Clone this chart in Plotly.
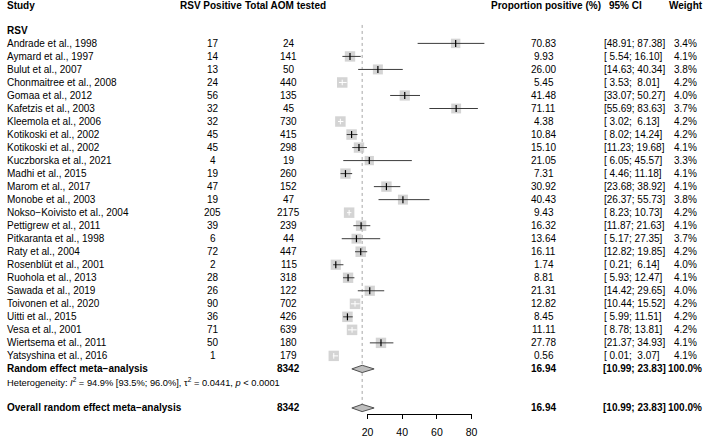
import plotly.graph_objects as go

# ---------------- data ----------------
studies = ["Andrade et al., 1998", "Aymard et al., 1997", "Bulut et al., 2007",
           "Chonmaitree et al., 2008", "Gomaa et al., 2012", "Kafetzis et al., 2003",
           "Kleemola et al., 2006", "Kotikoski et al., 2002", "Kotikoski et al., 2002",
           "Kuczborska et al., 2021", "Madhi et al., 2015", "Marom et al., 2017",
           "Monobe et al., 2003", "Nokso\u2212Koivisto et al., 2004", "Pettigrew et al., 2011",
           "Pitkaranta et al., 1998", "Raty et al., 2004", "Rosenblüt et al., 2001",
           "Ruohola et al., 2013", "Sawada et al., 2019", "Toivonen et al., 2020",
           "Uitti et al., 2015", "Vesa et al., 2001", "Wiertsema et al., 2011",
           "Yatsyshina et al., 2016"]
events = [17, 14, 13, 24, 56, 32, 32, 45, 45, 4, 19, 47, 19, 205, 39, 6, 72, 2, 28, 26, 90, 36, 71, 50, 1]
totals = [24, 141, 50, 440, 135, 45, 730, 415, 298, 19, 260, 152, 47, 2175, 239, 44, 447, 115, 318,
          122, 702, 426, 639, 180, 179]
prop = [70.83, 9.93, 26.00, 5.45, 41.48, 71.11, 4.38, 10.84, 15.10, 21.05, 7.31, 30.92, 40.43, 9.43,
        16.32, 13.64, 16.11, 1.74, 8.81, 21.31, 12.82, 8.45, 11.11, 27.78, 0.56]
ci_lo = [48.91, 5.54, 14.63, 3.53, 33.07, 55.69, 3.02, 8.02, 11.23, 6.05, 4.46, 23.68, 26.37, 8.23,
         11.87, 5.17, 12.82, 0.21, 5.93, 14.42, 10.44, 5.99, 8.78, 21.37, 0.01]
ci_hi = [87.38, 16.10, 40.34, 8.01, 50.27, 83.63, 6.13, 14.24, 19.68, 45.57, 11.18, 38.92, 55.73, 10.73,
         21.63, 27.35, 19.85, 6.14, 12.47, 29.65, 15.52, 11.51, 13.81, 34.93, 3.07]
weights = [3.4, 4.1, 3.8, 4.2, 4.0, 3.7, 4.2, 4.2, 4.1, 3.3, 4.1, 4.1, 3.8, 4.2, 4.1, 3.7, 4.2, 4.0,
           4.1, 4.0, 4.2, 4.2, 4.2, 4.1, 4.1]
pooled_est, pooled_lo, pooled_hi = 16.94, 10.99, 23.83
pooled_total = 8342
pooled_weight = 100.0
axis_ticks = [20, 40, 60, 80]
heterogeneity = ("Heterogeneity: <i>I</i><sup>2</sup> = 94.9% [93.5%; 96.0%], "
                 "\u03c4<sup>2</sup> = 0.0441, <i>p</i> &lt; 0.0001")

# ---------------- geometry ----------------
W, H = 709, 438
X0_PX, PX_PER_UNIT = 332.4, 1.765       # px position of 0 and scale
ROW0_PX, ROW_PX = 43.5, 13.05           # px position of first study row and row height

def xv(px):
    return (px - X0_PX) / PX_PER_UNIT

def rv(py):
    return (py - ROW0_PX) / ROW_PX

n = len(studies)
rows = list(range(n))
row_rsv = -1
row_header = -2.9
row_pooled = n
row_het = n + 1
row_overall = n + 3

FONT = "Liberation Sans, Arial, Helvetica, sans-serif"
FS = 10

box_ref = 10.5  # px side for weight 4.2%
sides = [box_ref * (w / 4.2) ** 0.5 for w in weights]

fig = go.Figure()

# reference dotted line at pooled estimate
fig.add_trace(go.Scatter(x=[pooled_est, pooled_est], y=[rv(25), rv(413)], mode="lines",
                         line=dict(color="#a6a6a6", width=1, dash="dot"),
                         hoverinfo="skip", showlegend=False))

# boxes
fig.add_trace(go.Scatter(x=prop, y=rows, mode="markers",
                         marker=dict(symbol="square", size=sides, color="#c2c2c2",
                                     line=dict(width=0)),
                         hoverinfo="skip", showlegend=False))

# CI lines, white if inside box
dark_x, dark_y, white_x, white_y = [], [], [], []
dark_px, dark_py, white_px, white_py = [], [], [], []
for i in rows:
    half = sides[i] / 2 / PX_PER_UNIT
    inside = (prop[i] - ci_lo[i] <= half) and (ci_hi[i] - prop[i] <= half)
    if inside:
        white_x += [ci_lo[i], ci_hi[i], None]; white_y += [i, i, None]
        white_px.append(prop[i]); white_py.append(i)
    else:
        dark_x += [ci_lo[i], ci_hi[i], None]; dark_y += [i, i, None]
        dark_px.append(prop[i]); dark_py.append(i)

fig.add_trace(go.Scatter(x=dark_x, y=dark_y, mode="lines", line=dict(color="#3c3c3c", width=1),
                         hoverinfo="skip", showlegend=False))
fig.add_trace(go.Scatter(x=white_x, y=white_y, mode="lines", line=dict(color="#ffffff", width=1),
                         hoverinfo="skip", showlegend=False))
fig.add_trace(go.Scatter(x=dark_px, y=dark_py, mode="markers",
                         marker=dict(symbol="line-ns", size=5, line=dict(color="#000000", width=1.2)),
                         hoverinfo="skip", showlegend=False))
fig.add_trace(go.Scatter(x=white_px, y=white_py, mode="markers",
                         marker=dict(symbol="line-ns", size=4, line=dict(color="#ffffff", width=1)),
                         hoverinfo="skip", showlegend=False))

# diamonds
dh = 0.28
for r in (row_pooled, row_overall):
    fig.add_trace(go.Scatter(x=[pooled_lo, pooled_est, pooled_hi, pooled_est, pooled_lo],
                             y=[r, r - dh, r, r + dh, r], mode="lines", fill="toself",
                             fillcolor="#bebebe", line=dict(color="#505050", width=1),
                             hoverinfo="skip", showlegend=False))

# dummy trace to show bottom axis
fig.add_trace(go.Scatter(x=[axis_ticks[0], axis_ticks[-1]], y=[None, None], xaxis="x2", yaxis="y",
                         mode="markers", hoverinfo="skip", showlegend=False))

# ---------------- text ----------------
ann = []

def txt(px, row, s, anchor="left", bold=False, size=FS):
    if bold:
        s = "<b>" + s + "</b>"
    ann.append(dict(x=px / W, xref="paper", y=row, yref="y", text=s, showarrow=False,
                    xanchor=anchor, yanchor="middle", borderpad=0, borderwidth=0,
                    font=dict(family=FONT, size=size, color="#000000")))

C_STUDY, C_EV, C_TOT, C_PROP, C_CI, C_W = 1.5, 210.5, 287.5, 547, 608.3, 691.3

# headers
txt(C_STUDY, row_header, "Study", "left", True)
txt(209, row_header, "RSV Positive", "center", True)
txt(284, row_header, "Total AOM tested", "center", True)
txt(549, row_header, "Proportion positive (%)", "center", True)
txt(630, row_header, "95% CI", "center", True)
txt(692, row_header, "Weight", "center", True)
txt(C_STUDY, row_rsv, "RSV", "left", True)

def fmt_ci(a, b):
    return ("[" + f"{a:5.2f}" + "; " + f"{b:5.2f}" + "]").replace(" ", "\u00a0")

for i in rows:
    txt(C_STUDY, i, studies[i], "left")
    txt(C_EV, i, str(events[i]), "center")
    txt(C_TOT, i, str(totals[i]), "center")
    txt(C_PROP, i, f"{prop[i]:.2f}", "center")
    txt(C_CI, i, fmt_ci(ci_lo[i], ci_hi[i]), "left")
    txt(C_W, i, f"{weights[i]:.1f}%", "center")

for r, label in ((row_pooled, "Random effect meta\u2212analysis"),
                 (row_overall, "Overall random effect meta\u2212analysis")):
    txt(C_STUDY, r, label, "left", True)
    txt(C_TOT, r, str(pooled_total), "center", True)
    txt(C_PROP, r, f"{pooled_est:.2f}", "center", True)
    txt(C_CI - 1.5, r, fmt_ci(pooled_lo, pooled_hi), "left", True)
    txt(708, r, f"{pooled_weight:.1f}%", "right", True)

txt(C_STUDY, row_het, heterogeneity, "left", False, 9.3)

fig.update_layout(
    width=W, height=H, margin=dict(l=0, r=0, t=0, b=0),
    paper_bgcolor="white", plot_bgcolor="rgba(0,0,0,0)",
    showlegend=False, annotations=ann,
    xaxis=dict(range=[xv(0), xv(W)], visible=False, domain=[0, 1], fixedrange=True),
    yaxis=dict(range=[rv(H), rv(0)], visible=False, domain=[0, 1], fixedrange=True),
    xaxis2=dict(domain=[(X0_PX + axis_ticks[0] * PX_PER_UNIT) / W,
                        (X0_PX + axis_ticks[-1] * PX_PER_UNIT) / W],
                range=[axis_ticks[0], axis_ticks[-1]], anchor="free", position=1 - 415 / H,
                showline=True, linecolor="#000000", linewidth=1, ticks="outside",
                ticklen=4, tickwidth=1, tickcolor="#000000", tickvals=axis_ticks,
                showgrid=False, zeroline=False, ticklabelstandoff=4,
                tickfont=dict(family=FONT, size=10.5, color="#000000")),
)

fig.write_html("out.html")
